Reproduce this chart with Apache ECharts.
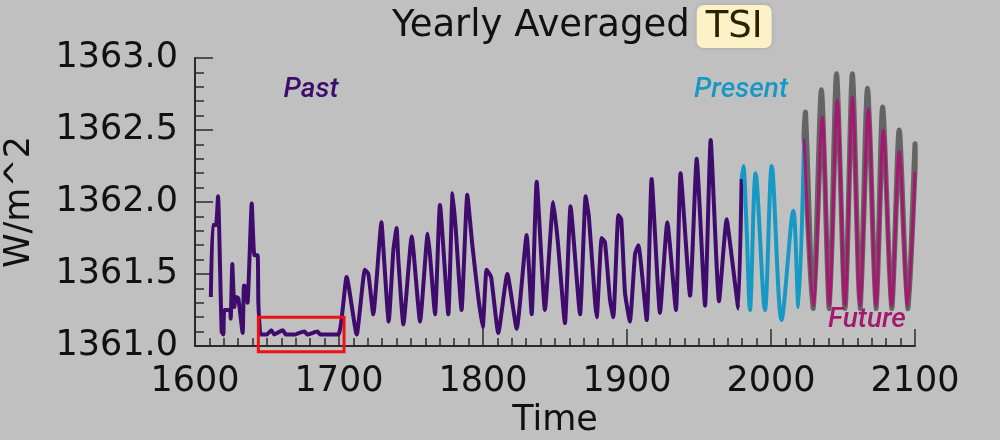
<!DOCTYPE html>
<html>
<head>
<meta charset="utf-8">
<script src="https://cdn.jsdelivr.net/npm/echarts@6/dist/echarts.min.js"></script>
<style>
  html, body { margin: 0; background: #c0c0c0; }
  #tsi { width: 1000px; height: 440px; }
</style>
</head>
<body>
<div id="tsi"></div>
<script>
// past reconstruction (at peaks, troughs and bends)
const pastYears = [1611, 1612.3, 1614.6, 1616, 1618.5, 1619.7, 1620.4, 1624.3, 1624.8, 1625.9,
  1627.3, 1628.5, 1630.1, 1633.1, 1634, 1635.4, 1636.5, 1639.4, 1641.2, 1643.5,
  1644, 1645.6, 1650, 1653, 1655, 1661, 1663, 1670, 1672, 1676,
  1678, 1685, 1687, 1699.5, 1705.3, 1712.3, 1718, 1720.4, 1723.8, 1729.5,
  1730.8, 1734.5, 1737.8, 1740, 1741.2, 1744.7, 1750.5, 1756.3, 1761.6, 1763.2,
  1766.7, 1770.1, 1775.9, 1778.9, 1781, 1785.1, 1789.1, 1792.6, 1796.7, 1799.8,
  1802.5, 1805.6, 1810.6, 1816.9, 1823.4, 1830.3, 1833.8, 1837.3, 1843, 1848.8,
  1852, 1856.9, 1860.8, 1867.4, 1871.3, 1873.5, 1877.8, 1879, 1882.4, 1884.7,
  1888.2, 1890.5, 1894, 1896, 1898.6, 1902, 1905.6, 1907.9, 1913.7, 1917.1,
  1922.9, 1928, 1934, 1937.2, 1943.8, 1948.4, 1954.2, 1958.1, 1963.9, 1969.2,
  1972.6, 1977.3, 1979.6];
const pastVals = [1361.34, 1361.84, 1361.84, 1362.04, 1361.10, 1361.08, 1361.25, 1361.25, 1361.19, 1361.57,
  1361.27, 1361.34, 1361.33, 1361.09, 1361.42, 1361.41, 1361.30, 1361.99, 1361.63, 1361.63,
  1361.30, 1361.08, 1361.08, 1361.11, 1361.08, 1361.11, 1361.08, 1361.08, 1361.09, 1361.10,
  1361.08, 1361.10, 1361.08, 1361.08, 1361.48, 1361.08, 1361.53, 1361.50, 1361.22, 1361.86,
  1361.68, 1361.17, 1361.67, 1361.82, 1361.60, 1361.15, 1361.76, 1361.17, 1361.78, 1361.63,
  1361.22, 1361.98, 1361.22, 1362.06, 1361.82, 1361.25, 1362.05, 1361.70, 1361.34, 1361.13,
  1361.53, 1361.48, 1361.09, 1361.50, 1361.12, 1361.77, 1361.22, 1362.14, 1361.25, 1362.00,
  1361.72, 1361.16, 1361.97, 1361.22, 1362.04, 1361.90, 1361.31, 1361.20, 1361.75, 1361.72,
  1361.32, 1361.20, 1361.91, 1361.88, 1361.37, 1361.17, 1361.64, 1361.70, 1361.18, 1362.16,
  1361.23, 1361.86, 1361.25, 1362.20, 1361.35, 1362.30, 1361.28, 1362.43, 1361.31, 1361.88,
  1361.63, 1361.26, 1362.16];

// present (observed)
const presentYears = [1979.6, 1980.8, 1983, 1985.4, 1989.3, 1995.8, 2000.5, 2007.3, 2015.5, 2019, 2023];
const presentVals = [1362.16, 1362.25, 1361.83, 1361.25, 1362.20, 1361.25, 1362.25, 1361.18, 1361.94, 1361.27, 1362.44];

// future (projection) and the upper edge of its spread
const futureYears = [2023, 2029.4, 2035.6, 2040.5, 2046, 2051.4, 2056.6, 2061.8, 2067.6, 2072.9, 2078, 2083.8, 2089.1, 2094.9, 2100];
const futureVals = [1362.44, 1361.28, 1362.59, 1361.28, 1362.71, 1361.28, 1362.73, 1361.28, 1362.65, 1361.28, 1362.50, 1361.28, 1362.35, 1361.28, 1362.21];
const bandYears = [2024, 2029.4, 2035, 2040.5, 2045.5, 2051.4, 2056.5, 2061.8, 2067, 2072.9, 2077.5, 2083.8, 2089, 2094.9, 2100];
const bandUpper = [1362.62, 1361.26, 1362.78, 1361.26, 1362.89, 1361.26, 1362.89, 1361.26, 1362.79, 1361.26, 1362.66, 1361.26, 1362.50, 1361.26, 1362.40];

// red box around the Maunder minimum
const boxFrom = [1644, 1361.20];
const boxTo = [1703.5, 1360.96];

const zip = (xs, ys) => xs.map((x, i) => [x, ys[i]]);

const FONT = 'DejaVu Sans';
const AXIS = '#2b2b2b';

const tsiChart = echarts.init(document.getElementById('tsi'));

const opt = {
  backgroundColor: '#c0c0c0',
  animation: false,
  title: {
    text: 'Yearly Averaged{sp|}{hl|TSI}',
    left: 387,
    top: 0,
    textStyle: {
      fontFamily: FONT,
      fontSize: 37,
      fontWeight: 'normal',
      color: '#111111',
      rich: {
        sp: { width: 7 },
        hl: {
          fontFamily: FONT,
          fontSize: 37,
          color: '#2a2200',
          backgroundColor: '#fdf1c8',
          borderRadius: 7,
          padding: [4, 9, 2, 9],
          shadowColor: 'rgba(0,0,0,0.15)',
          shadowBlur: 4
        }
      }
    }
  },
  grid: { left: 195, right: 85, top: 58, bottom: 94, outerBoundsMode: 'none' },
  xAxis: {
    type: 'value',
    min: 1600,
    max: 2100,
    interval: 100,
    name: 'Time',
    nameLocation: 'middle',
    nameGap: 54,
    nameTextStyle: { fontFamily: FONT, fontSize: 35, color: '#111111' },
    axisLine: { lineStyle: { color: AXIS, width: 2 } },
    axisTick: { inside: true, length: 17, lineStyle: { color: AXIS, width: 1.5 } },
    minorTick: { show: true, splitNumber: 10, length: 8, lineStyle: { color: AXIS, width: 1.5 } },
    splitLine: { show: false },
    axisLabel: {
      fontFamily: FONT, fontSize: 35, color: '#111111', margin: 18,
      formatter: v => String(v)
    }
  },
  yAxis: {
    type: 'value',
    min: 1361,
    max: 1363,
    interval: 0.5,
    name: 'W/m^2',
    nameLocation: 'middle',
    nameRotate: 90,
    nameGap: 158,
    nameTextStyle: { fontFamily: FONT, fontSize: 35, color: '#111111' },
    axisLine: { show: true, lineStyle: { color: AXIS, width: 2 } },
    axisTick: { inside: true, length: 18, lineStyle: { color: AXIS, width: 1.5 } },
    minorTick: { show: true, splitNumber: 5, length: 9, lineStyle: { color: AXIS, width: 1.5 } },
    splitLine: { show: false },
    axisLabel: {
      fontFamily: FONT, fontSize: 35, color: '#111111', margin: 17,
      formatter: v => v.toFixed(1)
    }
  },
  series: [{
    name: 'spread',
    type: 'custom',
    silent: true,
    z: 1,
    data: [[2060, 1362]],
    renderItem: function (params, api) {
      const pts = [];
      for (let i = 0; i < bandYears.length; i++) pts.push(api.coord([bandYears[i], bandUpper[i]]));
      for (let i = futureYears.length - 1; i >= 0; i--) pts.push(api.coord([futureYears[i], futureVals[i]]));
      return {
        type: 'polygon',
        shape: { points: pts, smooth: 0.25 },
        style: { fill: '#646464', stroke: '#646464', lineWidth: 5, lineJoin: 'round' }
      };
    }
  }, {
    name: 'Past',
    type: 'line',
    showSymbol: false,
    smooth: 0.15,
    z: 3,
    lineStyle: { color: '#3f0c6e', width: 4, join: 'round' },
    data: zip(pastYears, pastVals)
  }, {
    name: 'Present',
    type: 'line',
    showSymbol: false,
    smooth: 0.3,
    z: 3,
    lineStyle: { color: '#1799c6', width: 4, join: 'round' },
    data: zip(presentYears, presentVals)
  }, {
    name: 'Future',
    type: 'line',
    showSymbol: false,
    smooth: 0.3,
    z: 4,
    lineStyle: { color: '#a5186f', width: 3, join: 'round' },
    data: zip(futureYears, futureVals)
  }]
};

tsiChart.setOption(opt);

// labels and the red box, placed after the axes exist
const p0 = tsiChart.convertToPixel({ gridIndex: 0 }, boxFrom);
const p1 = tsiChart.convertToPixel({ gridIndex: 0 }, boxTo);
const tag = (text, x, y, color) => ({
  type: 'text', x: x, y: y, z: 10,
  style: {
    text: text, fill: color, font: 'italic 500 28px Roboto',
    align: 'center', verticalAlign: 'middle'
  }
});
tsiChart.setOption({
  graphic: [
    {
      type: 'rect', z: 10,
      shape: { x: p0[0], y: p0[1], width: p1[0] - p0[0], height: p1[1] - p0[1] },
      style: { fill: 'none', stroke: '#ee1111', lineWidth: 3 }
    },
    tag('Past', 311, 90, '#3f0c6e'),
    tag('Present', 741, 90, '#1799c6'),
    tag('Future', 867, 320, '#a5186f')
  ]
});
</script>
</body>
</html>
